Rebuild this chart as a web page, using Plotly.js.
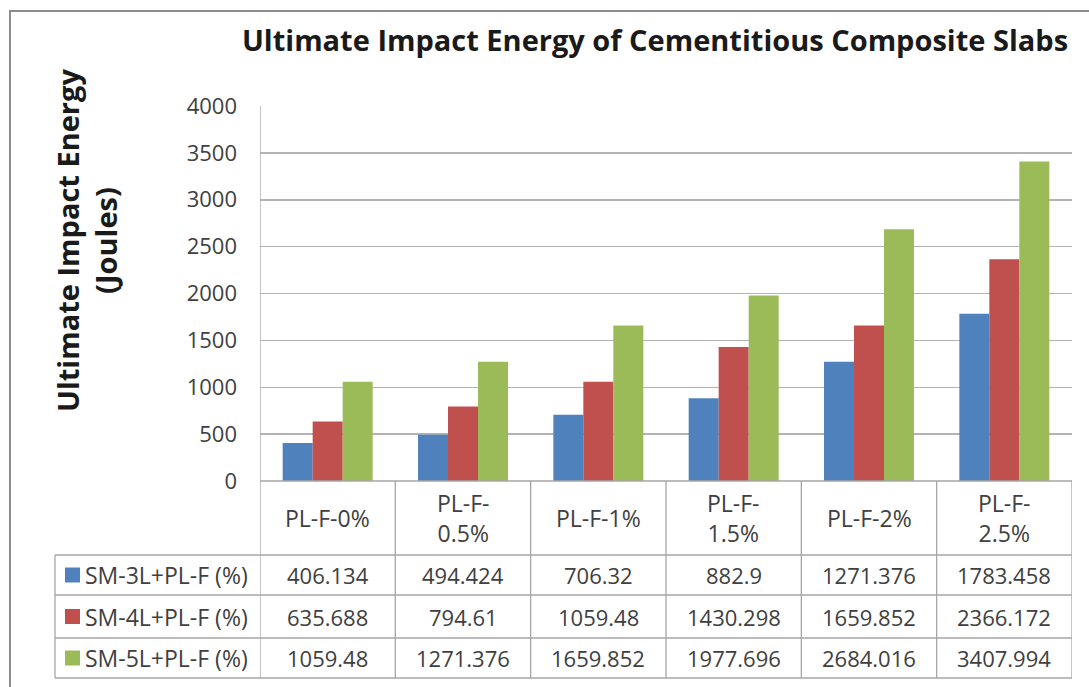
<!DOCTYPE html>
<html>
<head>
<meta charset="utf-8">
<script src="https://cdn.plot.ly/plotly-3.0.1.min.js"></script>
<style>html,body{margin:0;padding:0;background:#fff;}#chart{width:1089px;height:687px;}</style>
</head>
<body>
<div id="chart"></div>
<script>
// ---- data ----
const categories = ['PL-F-0%', 'PL-F-0.5%', 'PL-F-1%', 'PL-F-1.5%', 'PL-F-2%', 'PL-F-2.5%'];
const categoryLabels = ['PL-F-0%', 'PL-F-<br>0.5%', 'PL-F-1%', 'PL-F-<br>1.5%', 'PL-F-2%', 'PL-F-<br>2.5%'];
const seriesNames = ['SM-3L+PL-F (%)', 'SM-4L+PL-F (%)', 'SM-5L+PL-F (%)'];
const sm3 = [406.134, 494.424, 706.32, 882.9, 1271.376, 1783.458];
const sm4 = [635.688, 794.61, 1059.48, 1430.298, 1659.852, 2366.172];
const sm5 = [1059.48, 1271.376, 1659.852, 1977.696, 2684.016, 3407.994];
const seriesValues = [sm3, sm4, sm5];
const valueLabels = [
  ['406.134', '494.424', '706.32', '882.9', '1271.376', '1783.458'],
  ['635.688', '794.61', '1059.48', '1430.298', '1659.852', '2366.172'],
  ['1059.48', '1271.376', '1659.852', '1977.696', '2684.016', '3407.994']
];
const yTicks = [0, 500, 1000, 1500, 2000, 2500, 3000, 3500, 4000];

// ---- styles ----
const colors = ['#4F81BD', '#C0504D', '#9BBB59'];
const FONT = '"Open Sans", "DejaVu Sans", sans-serif';
const textColor = '#404040';
const lineColor = '#A6A6A6';

// layout geometry (pixels)
const W = 1089, H = 687, L = 260, R = 1072, T = 106, B = 481;
const px = x => (x - L) / (R - L);
const py = y => (B - y) / (B - T);
const rowLines = [555, 595, 638, 678];
const tableLeft = 55;

const traces = seriesValues.map((vals, i) => ({
  type: 'bar',
  name: seriesNames[i],
  x: categories,
  y: vals,
  marker: {color: colors[i]},
  hoverinfo: 'x+y+name'
}));

const shapes = [];
const annotations = [];

// outer chart border
shapes.push({type: 'rect', xref: 'paper', yref: 'paper', x0: px(10), x1: px(1095), y0: py(695), y1: py(11),
  line: {color: '#8C8C8C', width: 2}, layer: 'below'});

// horizontal table lines
shapes.push({type: 'line', xref: 'paper', yref: 'paper', x0: 0, x1: 1, y0: 0, y1: 0, line: {color: lineColor, width: 1.3}});
rowLines.forEach(y => {
  shapes.push({type: 'line', xref: 'paper', yref: 'paper', x0: px(tableLeft), x1: 1, y0: py(y), y1: py(y),
    line: {color: lineColor, width: 1.3}});
});
// vertical table lines
shapes.push({type: 'line', xref: 'paper', yref: 'paper', x0: px(tableLeft), x1: px(tableLeft), y0: py(rowLines[0]), y1: py(rowLines[3]),
  line: {color: lineColor, width: 1.3}});
for (let k = 0; k <= categories.length; k++) {
  shapes.push({type: 'line', xref: 'x', yref: 'paper', x0: k - 0.5, x1: k - 0.5,
    y0: k === 0 ? 1 : 0, y1: py(rowLines[3]), line: {color: lineColor, width: 1.3}});
}

// category header row
categories.forEach((c, j) => {
  annotations.push({xref: 'x', yref: 'paper', x: c, y: py((B + rowLines[0]) / 2), text: categoryLabels[j],
    showarrow: false, xanchor: 'center', yanchor: 'middle', align: 'center',
    font: {family: FONT, size: 23, color: textColor}});
});

// data rows with legend keys
const rowTops = [rowLines[0], rowLines[1], rowLines[2]];
const rowBots = [rowLines[1], rowLines[2], rowLines[3]];
seriesNames.forEach((n, i) => {
  const cy = (rowTops[i] + rowBots[i]) / 2;
  shapes.push({type: 'rect', xref: 'paper', yref: 'paper', x0: px(65), x1: px(80), y0: py(cy + 7.5), y1: py(cy - 7.5),
    fillcolor: colors[i], line: {width: 0}});
  annotations.push({xref: 'paper', yref: 'paper', x: px(83), y: py(cy), text: n, showarrow: false,
    xanchor: 'left', yanchor: 'middle', font: {family: FONT, size: 23, color: textColor}});
  categories.forEach((c, j) => {
    annotations.push({xref: 'x', yref: 'paper', x: c, y: py(cy), text: valueLabels[i][j], showarrow: false,
      xanchor: 'center', yanchor: 'middle', font: {family: FONT, size: 22, color: textColor}});
  });
});

// y-axis title
annotations.push({xref: 'paper', yref: 'paper', x: px(86), y: py(241), text: '<b>Ultimate Impact Energy</b><br><b>(Joules)</b>',
  textangle: -90, showarrow: false, xanchor: 'center', yanchor: 'middle', align: 'center',
  font: {family: FONT, size: 29, color: '#1a1a1a'}});

const layout = {
  width: W, height: H,
  margin: {l: L, r: W - R, t: T, b: H - B, pad: 0},
  paper_bgcolor: '#ffffff', plot_bgcolor: '#ffffff',
  title: {text: '<b>Ultimate Impact Energy of Cementitious Composite Slabs</b>', xref: 'paper', x: px(655), xanchor: 'center',
    yref: 'container', y: 1 - 41 / H, yanchor: 'middle', font: {family: FONT, size: 29, color: '#1a1a1a'}},
  showlegend: false,
  barmode: 'group', bargap: 0.335, bargroupgap: 0,
  xaxis: {type: 'category', range: [-0.5, 5.5], showticklabels: false, ticks: '', showgrid: false,
    zeroline: false, showline: false, fixedrange: true},
  yaxis: {range: [0, 4000], tickvals: yTicks, ticktext: yTicks.map(String), ticks: '', showgrid: true,
    gridcolor: '#B3B3B3', gridwidth: 1.5, zeroline: false, showline: false, ticklabelstandoff: 22,
    tickfont: {family: FONT, size: 22, color: textColor}, fixedrange: true},
  shapes: shapes,
  annotations: annotations
};

Plotly.newPlot('chart', traces, layout, {displayModeBar: false, staticPlot: true});
</script>
</body>
</html>
